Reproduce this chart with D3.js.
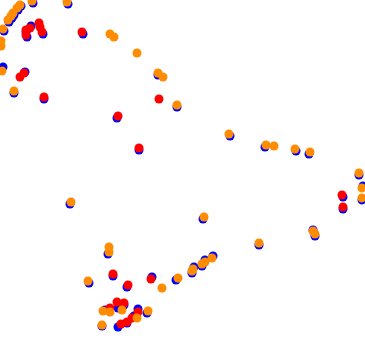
<!DOCTYPE html>
<html>
<head>
<meta charset="utf-8">
<script src="https://cdn.jsdelivr.net/npm/d3@7"></script>
<style>
  html, body { margin: 0; padding: 0; background: #fff; }
  svg { display: block; }
</style>
</head>
<body>
<svg id="chart" width="365" height="350"></svg>
<script>
// series values (x, y) in data units
var blueX = [6.6, 13.6, 4.2, 3.6, 2.8, 2.4, 1.8, 0.8, 0.6, 2.8, 31.6, 35.4, 46.0, 53.0, 59.2, 61.8, 71.8, 72.6, 72.4, 14.0,
  40.6, 62.6, 63.0, 51.8, 21.6, 17.8, 35.2, 38.4, 38.8, 40.4, 41.0, 42.6, 21.0, 29.4, 20.4,
  5.2, 6.2, 5.4, 8.6, 16.6, 5.0, 8.8, 23.4, 27.8, 68.6, 68.6, 22.6, 25.4, 30.4, 23.6, 24.8, 27.6, 23.6, 25.4, 26.8]
var blueY = [69.4, 69.2, 68.8, 68.0, 67.0, 66.4, 65.6, 63.8, 56.6, 51.4, 55.0, 48.6, 42.8, 40.6, 39.8, 39.2, 35.0, 32.8, 30.0, 29.2,
  26.2, 24.0, 22.8, 21.0, 19.2, 13.4, 14.0, 15.4, 16.6, 16.8, 18.0, 18.8, 8.0, 7.4, 4.8,
  63.6, 64.8, 62.6, 63.2, 63.2, 55.6, 50.2, 46.4, 40.0, 30.6, 28.2, 14.8, 12.6, 14.6, 8.4, 9.0, 8.2, 4.6, 5.4, 6.8]

var redX = [7.8, 8.0, 5.2, 6.0, 5.2, 8.4, 16.4, 4.8, 4.0, 8.8, 31.8, 23.6, 27.8, 68.4, 68.6, 22.6, 25.6, 30.2, 22.0, 23.4,
  24.8, 27.6, 24.2, 25.4, 26.4]
var redY = [65.4, 64.6, 64.0, 64.4, 63.0, 63.6, 63.6, 55.4, 54.6, 50.6, 50.2, 46.8, 40.4, 31.0, 28.6, 15.2, 13.0, 14.2, 8.4, 9.6,
  9.4, 7.6, 5.2, 5.6, 6.4]

var orangeX = [6.4, 13.4, 4.0, 3.4, 2.6, 2.2, 1.6, 0.6, 0.2, 0.2, 0.4, 2.8, 22.0, 22.8, 27.4, 31.6, 32.6, 35.4, 45.8, 53.2,
  54.8, 59.0, 62.0, 71.8, 72.4, 72.4, 14.2, 40.8, 62.6, 63.0, 51.8, 21.8, 21.8, 17.6, 32.4, 35.6, 38.4, 38.6, 40.4, 41.0,
  42.4, 20.6, 22.0, 24.4, 29.6, 27.4, 20.4]
var orangeY = [69.8, 69.6, 69.0, 68.4, 67.4, 66.8, 66.0, 64.2, 61.8, 60.8, 55.8, 51.8, 63.2, 62.6, 59.4, 55.4, 54.6, 49.0, 43.2, 41.0,
  40.8, 40.2, 39.6, 35.4, 32.4, 30.4, 29.6, 26.6, 23.8, 23.2, 21.4, 20.6, 19.6, 13.8, 12.4, 14.4, 15.8, 16.2, 17.2, 17.6,
  18.4, 7.8, 7.6, 8.0, 7.8, 6.4, 5.0]

var width = 365
var height = 350
var radius = 4.5

var svg = d3.select('#chart')

var x = d3.scaleLinear().domain([0, 73]).range([0, width])
var y = d3.scaleLinear().domain([0, 70]).range([height, 0])

var series = [
  {name: 'blue', color: '#0000ff', xs: blueX, ys: blueY},
  {name: 'red', color: '#ff0000', xs: redX, ys: redY},
  {name: 'orange', color: '#ff8c00', xs: orangeX, ys: orangeY}
]

series.forEach(function (s) {
  var pts = s.xs.map((v, i) => ({x: v, y: s.ys[i]}))
  svg.append('g')
      .attr('class', 'series ' + s.name)
    .selectAll('circle')
    .data(pts)
    .enter()
    .append('circle')
      .attr('cx', d => x(d.x))
      .attr('cy', d => y(d.y))
      .attr('r', radius)
      .style('fill', s.color)
})
</script>
</body>
</html>
